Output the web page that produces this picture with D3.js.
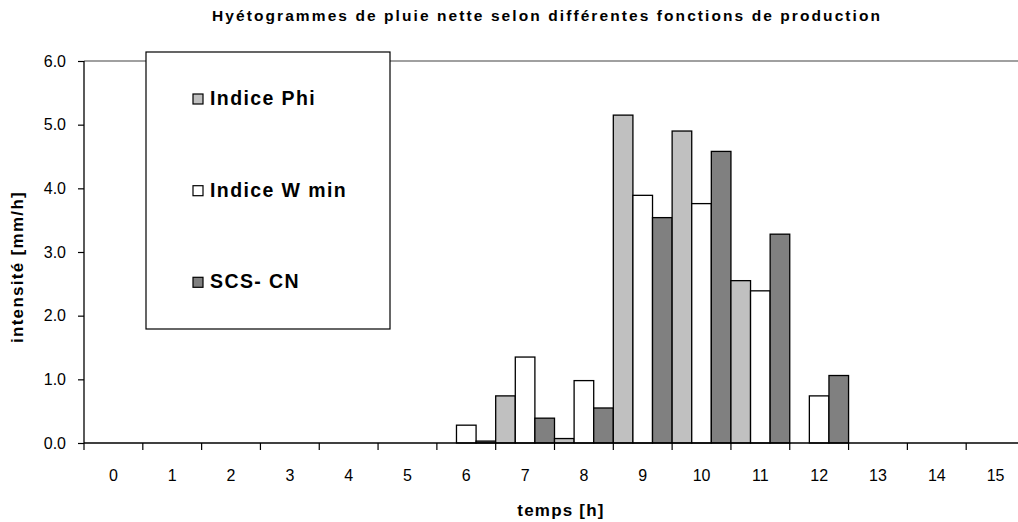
<!DOCTYPE html>
<html>
<head>
<meta charset="utf-8">
<script src="https://cdn.jsdelivr.net/npm/d3@7"></script>
<style>
  html, body { margin: 0; padding: 0; background: #fff; }
  svg { display: block; font-family: "Liberation Sans", Arial, sans-serif; }
</style>
</head>
<body>
<svg id="chart" width="1018" height="522"></svg>
<script>
// ---- data ----
const hours = [0, 1, 2, 3, 4, 5, 6, 7, 8, 9, 10, 11, 12, 13, 14, 15];
const seriesNames = ["Indice Phi", "Indice W min", "SCS- CN"];
const indicePhi = [0, 0, 0, 0, 0, 0, 0, 0.74, 0.07, 5.15, 4.90, 2.55, 0, 0, 0, 0];
const indiceWmin = [0, 0, 0, 0, 0, 0, 0.28, 1.35, 0.98, 3.89, 3.76, 2.39, 0.74, 0, 0, 0];
const scsCN = [0, 0, 0, 0, 0, 0, 0.03, 0.39, 0.55, 3.54, 4.58, 3.28, 1.06, 0, 0, 0];
const yTicks = [0, 1, 2, 3, 4, 5, 6];
const colors = ["#C0C0C0", "#FFFFFF", "#808080"];
const titleText = "Hyétogrammes de pluie nette selon différentes fonctions de production";
const xTitle = "temps [h]";
const yTitle = "intensité [mm/h]";

const seriesValues = [indicePhi, indiceWmin, scsCN];

// ---- layout ----
const svg = d3.select("#chart");
const plot = { left: 84, right: 1025, top: 61, bottom: 443 };

const x = d3.scaleBand().domain(hours).range([plot.left, plot.right]).paddingInner(0).paddingOuter(0);
const xs = d3.scaleBand().domain(d3.range(seriesNames.length)).range([0, x.bandwidth()]).padding(0);
const y = d3.scaleLinear().domain([0, 6]).range([plot.bottom, plot.top]);

// top gridline (6.0)
svg.append("line")
  .attr("x1", plot.left).attr("x2", 1018)
  .attr("y1", y(6)).attr("y2", y(6))
  .attr("stroke", "#808080").attr("stroke-width", 1.3);

// bars
const rows = hours.map((h, i) => ({ h, vals: seriesValues.map(s => s[i]) }));
const groups = svg.append("g").selectAll("g").data(rows).join("g")
  .attr("transform", d => `translate(${x(d.h)},0)`);
groups.selectAll("rect")
  .data(d => d.vals.map((v, k) => ({ v, k })).filter(e => e.v > 0))
  .join("rect")
  .attr("x", e => xs(e.k))
  .attr("width", xs.bandwidth())
  .attr("y", e => y(e.v))
  .attr("height", e => y(0) - y(e.v))
  .attr("fill", e => colors[e.k])
  .attr("stroke", "#000")
  .attr("stroke-width", 1.3);

// y axis
const yAxis = d3.axisLeft(y).tickValues(yTicks).tickFormat(d3.format(".1f")).tickSize(6).tickPadding(12);
const gy = svg.append("g").attr("transform", `translate(${plot.left},0)`).call(yAxis);
gy.select(".domain").attr("stroke", "#000").attr("stroke-width", 1.3).attr("d", `M0,${plot.top}V${plot.bottom}`);
gy.selectAll(".tick line").attr("stroke", "#000").attr("stroke-width", 1.2);
gy.selectAll(".tick text").attr("fill", "#000").style("font-size", "16px").attr("font-family", "Liberation Sans, Arial, sans-serif");

// x axis: category labels centered, ticks at band boundaries
const gx = svg.append("g").attr("transform", `translate(0,${plot.bottom})`);
gx.append("line").attr("x1", plot.left).attr("x2", 1018).attr("y1", 0).attr("y2", 0)
  .attr("stroke", "#000").attr("stroke-width", 1.5);
gx.selectAll("line.tk").data(hours.concat([hours.length])).join("line").attr("class", "tk")
  .attr("x1", (d, i) => plot.left + i * x.step())
  .attr("x2", (d, i) => plot.left + i * x.step())
  .attr("y1", 0).attr("y2", 7)
  .attr("stroke", "#000").attr("stroke-width", 1.2);
gx.selectAll("text").data(hours).join("text")
  .attr("x", d => x(d) + x.bandwidth() / 2)
  .attr("y", 38)
  .attr("text-anchor", "middle")
  .style("font-size", "16px")
  .attr("fill", "#000")
  .text(d => d);

// axis titles
svg.append("text")
  .attr("x", 561).attr("y", 516)
  .attr("text-anchor", "middle")
  .style("font-size", "17px").style("font-weight", "bold").style("letter-spacing", "1.2px")
  .text(xTitle);

svg.append("text")
  .attr("transform", "translate(23,267) rotate(-90)")
  .attr("text-anchor", "middle")
  .style("font-size", "17px").style("font-weight", "bold").style("letter-spacing", "1.3px")
  .text(yTitle);

// title
svg.append("text")
  .attr("x", 212).attr("y", 21)
  .attr("textLength", 668).attr("lengthAdjust", "spacing")
  .style("font-size", "15.5px").style("font-weight", "bold")
  .text(titleText);

// legend
const lg = svg.append("g");
lg.append("rect").attr("x", 146).attr("y", 52).attr("width", 244).attr("height", 277)
  .attr("fill", "#fff").attr("stroke", "#000").attr("stroke-width", 1.2);
const legendY = [105, 196.7, 288.3];
const items = lg.selectAll("g.item").data(seriesNames).join("g").attr("class", "item")
  .attr("transform", (d, i) => `translate(0,${legendY[i]})`);
items.append("rect").attr("x", 193).attr("y", -11).attr("width", 10).attr("height", 10)
  .attr("fill", (d, i) => colors[i]).attr("stroke", "#000").attr("stroke-width", 1.2);
items.append("text").attr("x", 210).attr("y", 0)
  .style("font-size", "19.5px").style("font-weight", "bold").style("letter-spacing", "1.4px")
  .text(d => d);
</script>
</body>
</html>
